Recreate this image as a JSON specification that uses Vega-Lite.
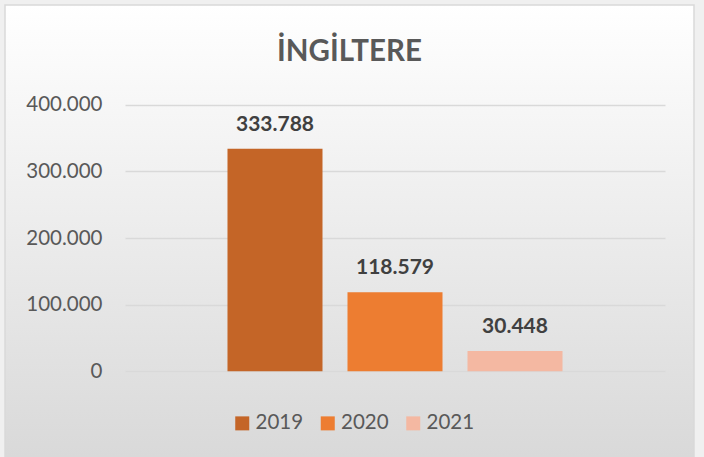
{
  "$schema": "https://vega.github.io/schema/vega-lite/v6.json",
  "autosize": "none",
  "width": 689,
  "height": 452,
  "padding": {"left": 5, "top": 5, "right": 10, "bottom": 0},
  "background": "#f0f0f0",
  "title": {
    "text": "İNGİLTERE",
    "font": "Lato",
    "fontSize": 29.5,
    "fontWeight": "bold",
    "color": "#595959",
    "anchor": "middle",
    "offset": -85,
    "baseline": "alphabetic"
  },
  "data": {
    "values": [
      {"year": "2019", "value": 333788},
      {"year": "2020", "value": 118579},
      {"year": "2021", "value": 30448}
    ]
  },
  "encoding": {
    "x": {
      "field": "year",
      "type": "nominal",
      "axis": null,
      "scale": {"range": [120, 660], "paddingInner": 0.2083, "paddingOuter": 0.854}
    },
    "y": {
      "field": "value",
      "type": "quantitative",
      "scale": {"domain": [0, 400000], "range": [366.3, 99.7], "nice": false},
      "axis": {
        "title": null,
        "values": [0, 100000, 200000, 300000, 400000],
        "format": ",d",
        "offset": -100,
        "labelPadding": 3,
        "domain": false,
        "ticks": false,
        "grid": true,
        "gridColor": "#d9d9d9",
        "gridWidth": 1.3,
        "labelFont": "Lato",
        "labelFontSize": 20.5,
        "labelColor": "#595959"
      }
    }
  },
  "layer": [
    {
      "mark": {"type": "bar"},
      "encoding": {
        "color": {
          "field": "year",
          "type": "nominal",
          "scale": {"domain": ["2019", "2020", "2021"], "range": ["#c46527", "#ed7d31", "#f4b8a2"]},
          "legend": {
            "title": null,
            "orient": "none",
            "direction": "horizontal",
            "legendX": 227,
            "legendY": 408,
            "symbolType": "square",
            "symbolSize": 196,
            "symbolStrokeWidth": 0,
            "symbolOpacity": 1,
            "labelFont": "Lato",
            "labelFontSize": 20.5,
            "labelColor": "#595959",
            "labelOffset": 3,
            "columnPadding": 13.5
          }
        }
      }
    },
    {
      "mark": {"type": "text", "font": "Lato", "fontSize": 21, "fontWeight": "bold", "color": "#404040", "baseline": "alphabetic", "dy": -18},
      "encoding": {
        "text": {"field": "value", "type": "quantitative", "format": ",d"}
      }
    }
  ],
  "config": {
    "locale": {"number": {"decimal": ",", "thousands": ".", "grouping": [3], "currency": ["", ""]}},
    "view": {
      "stroke": "#d9d9d9",
      "strokeWidth": 1.5,
      "fill": {
        "gradient": "linear",
        "x1": 0, "y1": 0, "x2": 0, "y2": 1,
        "stops": [
          {"offset": 0, "color": "#ffffff"},
          {"offset": 1, "color": "#d9d9d9"}
        ]
      }
    }
  }
}
